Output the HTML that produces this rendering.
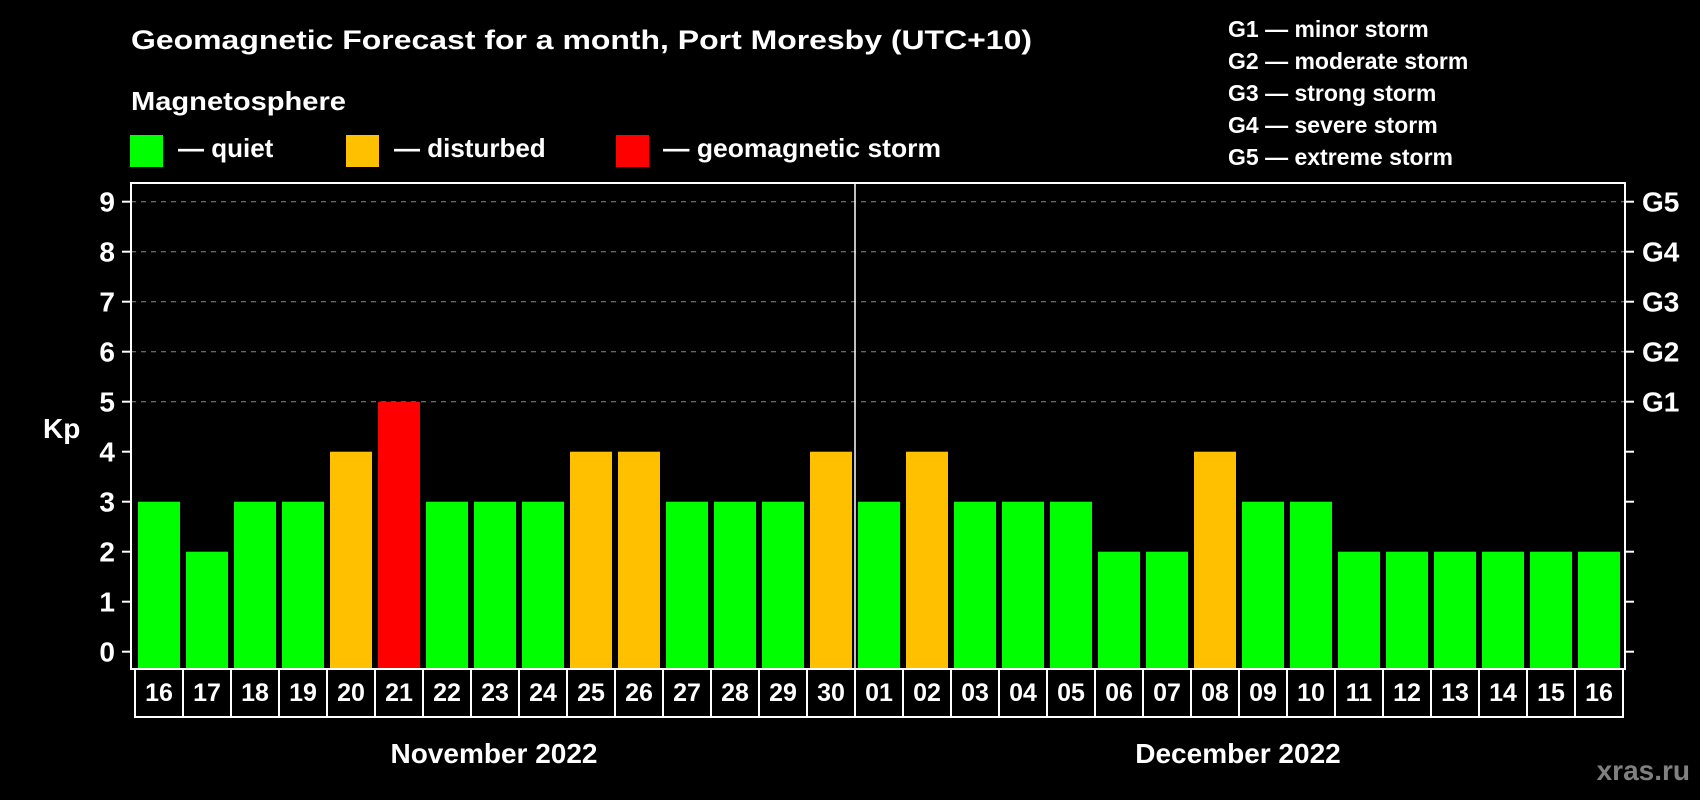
<!DOCTYPE html>
<html><head><meta charset="utf-8"><style>
html,body{margin:0;padding:0;background:#000;}
svg{display:block;font-family:"Liberation Sans",Arial,sans-serif;font-weight:bold;}
</style></head><body>
<svg id="chart" width="1700" height="800" viewBox="0 0 1700 800">
<rect x="0" y="0" width="1700" height="800" fill="#000"/>
<text x="131" y="49" fill="#fff" font-size="27" textLength="901" lengthAdjust="spacingAndGlyphs">Geomagnetic Forecast for a month, Port Moresby (UTC+10)</text>
<text x="131" y="110" fill="#fff" font-size="26" textLength="215" lengthAdjust="spacingAndGlyphs">Magnetosphere</text>
<g>
<rect x="130" y="135" width="33" height="32" fill="#00ff00"/>
<text x="178" y="157" fill="#fff" font-size="26">— quiet</text></g>
<g>
<rect x="346" y="135" width="33" height="32" fill="#ffc000"/>
<text x="394" y="157" fill="#fff" font-size="26">— disturbed</text></g>
<g>
<rect x="616" y="135" width="33" height="32" fill="#ff0000"/>
<text x="663" y="157" fill="#fff" font-size="26" textLength="278" lengthAdjust="spacingAndGlyphs">— geomagnetic storm</text></g>
<g font-size="23" fill="#fff">
<text x="1228" y="37">G1 — minor storm</text>
<text x="1228" y="69">G2 — moderate storm</text>
<text x="1228" y="101">G3 — strong storm</text>
<text x="1228" y="133">G4 — severe storm</text>
<text x="1228" y="165">G5 — extreme storm</text>
</g>
<g id="grid"></g>
<g id="bars"></g>
<g id="axes"></g>
<text x="43" y="438" fill="#fff" font-size="28">Kp</text>
<text x="494" y="763" fill="#fff" font-size="28" text-anchor="middle">November 2022</text>
<text x="1238" y="763" fill="#fff" font-size="28" text-anchor="middle">December 2022</text>
<text x="1690" y="780" fill="#808080" font-size="28" text-anchor="end">xras.ru</text>
</svg>
<script>
const days = ["16","17","18","19","20","21","22","23","24","25","26","27","28","29","30","01","02","03","04","05","06","07","08","09","10","11","12","13","14","15","16"];
const kpValues = [3,2,3,3,4,5,3,3,3,4,4,3,3,3,4,3,4,3,3,3,2,2,4,3,3,2,2,2,2,2,2];
const yTicks = [0,1,2,3,4,5,6,7,8,9];
const gLabels = ["G1","G2","G3","G4","G5"];
const gLevels = [5,6,7,8,9];

const NS="http://www.w3.org/2000/svg";
const frameL=131, frameR=1625, frameT=183, frameB=669;
const cellX0=135, cellW=48;
function yScale(v){return 651.7 - v*50;}
function xCell(i){return cellX0 + i*cellW;}
function mk(tag, attrs, parent){const e=document.createElementNS(NS,tag);for(const k in attrs)e.setAttribute(k,attrs[k]);parent.appendChild(e);return e;}
const grid=document.getElementById('grid'), bars=document.getElementById('bars'), axes=document.getElementById('axes');

gLevels.forEach((lv,i)=>{
  const l=mk('line',{x1:frameL,x2:frameR,y1:yScale(lv),y2:yScale(lv),stroke:'#8a8a8a','stroke-width':1,'stroke-dasharray':'5 5'},grid);
  
  
  const t=mk('text',{x:1642,y:yScale(lv)+10,fill:'#fff','font-size':28},axes);
  t.textContent=gLabels[i];
  
  
});

kpValues.forEach((v,i)=>{
  const color = v>=5?'#ff0000':(v>=4?'#ffc000':'#00ff00');
  const y=yScale(v);
  const r=mk('rect',{x:xCell(i)+3,y:y,width:42,height:frameB-y,fill:color},bars);
  
  
});

// frame
const fr=mk('rect',{x:frameL,y:frameT,width:frameR-frameL,height:frameB-frameT,fill:'none',stroke:'#fff','stroke-width':2},axes);


const sep=mk('line',{x1:xCell(15),x2:xCell(15),y1:frameT,y2:frameB,stroke:'#fff','stroke-width':1.5},axes);



yTicks.forEach(v=>{
  const y=yScale(v);
  const a=mk('line',{x1:122,x2:frameL,y1:y,y2:y,stroke:'#fff','stroke-width':2},axes);
  
  
  const b=mk('line',{x1:frameR,x2:1634,y1:y,y2:y,stroke:'#fff','stroke-width':2},axes);
  
  
  const t=mk('text',{x:115,y:y+10,fill:'#fff','font-size':28,'text-anchor':'end'},axes);
  t.textContent=v;
  
  
});

days.forEach((d,i)=>{
  const c=mk('rect',{x:xCell(i),y:frameB,width:cellW,height:48,fill:'#000',stroke:'#fff','stroke-width':2},axes);
  
  
  const t=mk('text',{x:xCell(i)+cellW/2,y:701,fill:'#fff','font-size':25,'text-anchor':'middle'},axes);
  t.textContent=d;
  
  
});
</script>
</body></html>
